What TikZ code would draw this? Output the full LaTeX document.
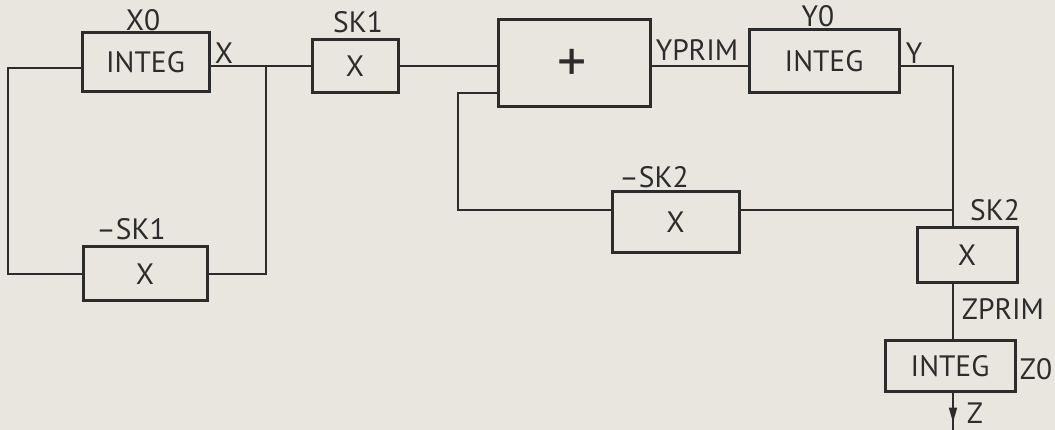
\documentclass[tikz,border=0pt]{standalone}
\usepackage{fontspec}
\setmainfont{PT Sans}
\usetikzlibrary{arrows.meta,decorations.markings}
\definecolor{paper}{HTML}{E8E6DF}
\definecolor{ink}{HTML}{2C2C2C}
\tikzset{
  blk/.style={draw=ink, line width=3pt, inner sep=0pt, text=ink,
    font=\fontsize{29.5}{31}\selectfont},
  wire/.style={draw=ink, line width=1.8pt},
  lbl/.style={text=ink, inner sep=0pt, font=\fontsize{29.5}{31}\selectfont},
  downtip/.style={postaction={decorate}, decoration={markings,
    mark=at position #1 with {\arrow{Triangle[width=8pt,length=15pt]}}}}
}
\begin{document}
\begin{tikzpicture}[x=1pt, y=-1pt]
  \fill[paper] (0,0) rectangle (1055,430);
  \useasboundingbox (0,0) rectangle (1055,430);

  % blocks
  \node[blk, minimum width=127pt, minimum height=59pt] (integ1) at (145.5,62.5) {INTEG};
  \node[blk, minimum width=124pt, minimum height=54pt] (negsk1) at (145,274) {X};
  \node[blk, minimum width=86pt,  minimum height=53pt] (sk1)    at (355,66.5) {X};
  \node[blk, minimum width=152pt, minimum height=87pt] (sum)    at (574,63.5) {};
  \node[lbl, font=\fontsize{58}{58}\selectfont] (plus) at (572,65) {+};
  \node[blk, minimum width=150pt, minimum height=63pt] (integ2) at (824,61.5) {INTEG};
  \node[blk, minimum width=127pt, minimum height=61pt] (negsk2) at (675.5,222.5) {X};
  \node[blk, minimum width=100pt, minimum height=55pt] (sk2)    at (967,255.5) {X};
  \node[blk, minimum width=130pt, minimum height=50pt] (integ3) at (950,366) {INTEG};

  % branch points and corners of the signal lines
  \coordinate (tap1) at (266,66);
  \coordinate (fb1)  at (8,68);
  \coordinate (fb2)  at (458,93);
  \coordinate (ycor) at (953,66);
  \coordinate (tap2) at (953,210);
  \coordinate (zout) at (953,430);

  % x loop
  \draw[wire] (integ1.east |- tap1) -- (tap1) -- (sk1.west |- tap1);
  \draw[wire] (tap1) |- (negsk1.east);
  \draw[wire] (negsk1.west) -| (fb1) -- (integ1.west |- fb1);

  % y loop
  \draw[wire] (sk1.east |- tap1) -- (sum.west |- tap1);
  \draw[wire] (sum.east |- tap1) -- (integ2.west |- tap1);
  \draw[wire] (integ2.east |- tap1) -- (ycor) -- (tap2) -- (tap2 |- sk2.north);
  \draw[wire] (tap2) -- (negsk2.east |- tap2);
  \draw[wire] (negsk2.west |- tap2) -| (fb2) -- (sum.west |- fb2);

  % z chain
  \draw[wire] (sk2.south -| tap2) -- (integ3.north -| tap2);
  \draw[wire, downtip=0.8] (integ3.south -| tap2) -- (zout);

  % labels
  \node[lbl] (lx0)    at (143,20)  {X0};
  \node[lbl] (lx)     at (224,53)  {X};
  \node[lbl] (lsk1)   at (358,22)  {SK1};
  \node[lbl] (lnsk1)  at (131,229) {--SK1};
  \node[lbl] (lyprim) at (697,50)  {YPRIM};
  \node[lbl] (ly0)    at (818,16)  {Y0};
  \node[lbl] (ly)     at (914,53)  {Y};
  \node[lbl] (lnsk2)  at (654,177) {--SK2};
  \node[lbl] (lsk2)   at (995,210) {SK2};
  \node[lbl] (lzprim) at (1003,309) {ZPRIM};
  \node[lbl] (lz0)    at (1036,369) {Z0};
  \node[lbl] (lz)     at (975,413) {Z};
\end{tikzpicture}
\end{document}
